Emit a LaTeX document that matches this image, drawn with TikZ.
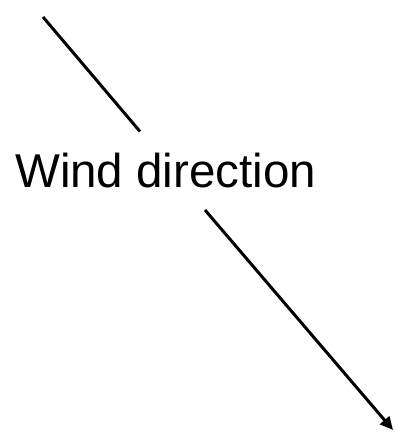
\documentclass[tikz,border=0pt]{standalone}
\usepackage{fontspec}
\setmainfont{Liberation Sans}
\usetikzlibrary{arrows.meta}
\begin{document}
\begin{tikzpicture}[x=1pt,y=1pt,
  windline/.style={line width=3pt,black},
  label/.style={inner sep=0pt,anchor=base west,font=\fontsize{47.5}{50}\selectfont}]
\useasboundingbox (0,0) rectangle (394,433);
\coordinate (a1) at (43,416);
\coordinate (a2) at (140,301.5);
\coordinate (b1) at (205,223);
\coordinate (b2) at (393,3);
\node[label] (t) at (15,245.5) {Wind direction};
\draw[windline] (a1) -- (a2);
\draw[windline,-{Triangle[length=13pt,width=12pt]}] (b1) -- (b2);
\end{tikzpicture}
\end{document}
